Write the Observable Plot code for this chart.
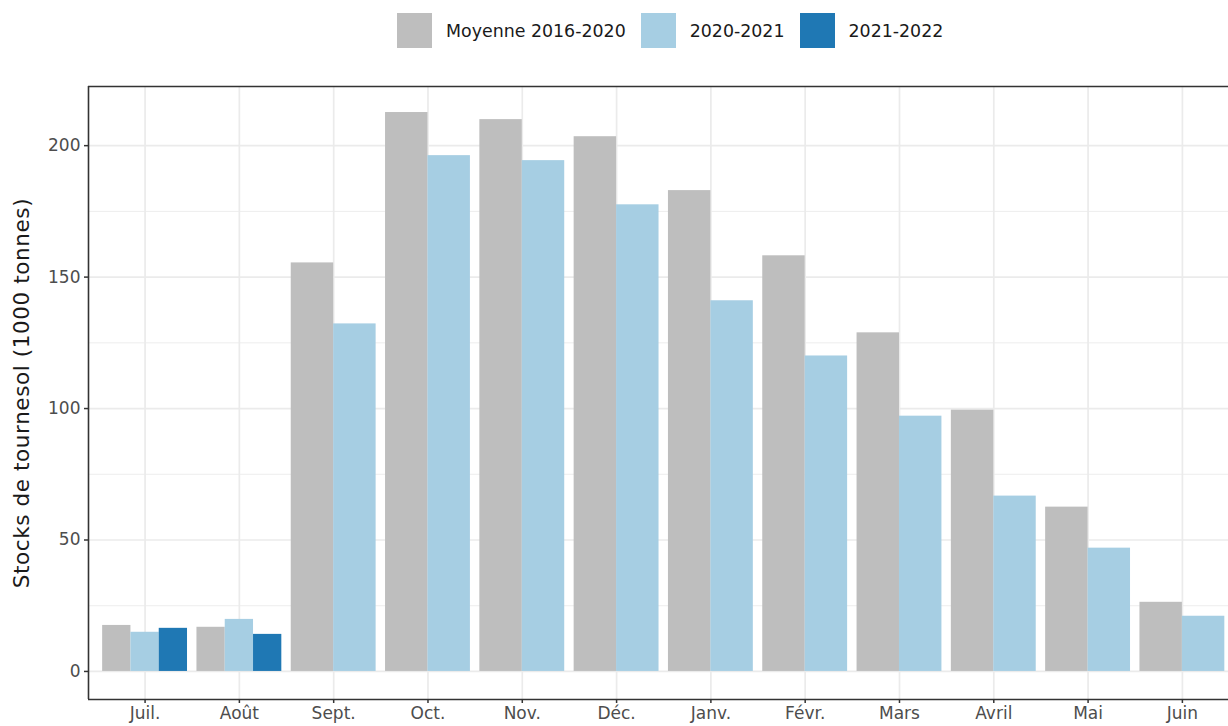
<!DOCTYPE html>
<html>
<head>
<meta charset="utf-8">
<script src="https://cdn.jsdelivr.net/npm/d3@7"></script>
<script src="https://cdn.jsdelivr.net/npm/@observablehq/plot@0.6"></script>
<style>
  html, body { margin: 0; padding: 0; background: #fff; }
  #wrap { position: relative; width: 1228px; height: 726px; overflow: hidden; font-family: "DejaVu Sans", sans-serif; }
  #legend { position: absolute; left: 397px; top: 13px; height: 35px; display: flex; align-items: center; }
  .item { display: flex; align-items: center; margin-right: 15px; }
  .sw { width: 35px; height: 35px; margin-right: 14px; }
  .lab { font-size: 17.4px; color: #1a1a1a; }
  #chart { position: absolute; left: 0; top: 60px; }
</style>
</head>
<body>
<div id="wrap">
  <div id="legend"></div>
  <div id="chart"></div>
</div>
<script>
// ---- data ----
const months = ["Juil.", "Août", "Sept.", "Oct.", "Nov.", "Déc.", "Janv.", "Févr.", "Mars", "Avril", "Mai", "Juin"];
const seriesNames = ["Moyenne 2016-2020", "2020-2021", "2021-2022"];
const seriesColors = ["#bebebe", "#a6cee3", "#1f78b4"];
const moyenne = [17.5, 16.8, 155.4, 212.6, 209.9, 203.4, 182.9, 158.1, 128.8, 99.4, 62.5, 26.3];
const s2020 = [14.9, 19.8, 132.2, 196.2, 194.3, 177.5, 141.0, 120.0, 97.1, 66.7, 46.9, 21.0];
const s2021 = [16.4, 14.1];
const yMajor = [0, 50, 100, 150, 200];
const yMinor = [25, 75, 125, 175];
const yTitle = "Stocks de tournesol (1000 tonnes)";

// ---- build dodged rows (ggplot-style position_dodge, width 0.9) ----
const allSeries = [moyenne, s2020, s2021];
const rows = [];
months.forEach((m, i) => {
  const present = allSeries.map((s, k) => ({k, v: s[i]})).filter(d => d.v != null);
  const n = present.length;
  present.forEach((d, j) => {
    const x1 = (i + 1) - 0.45 + j * 0.9 / n;
    rows.push({month: m, series: seriesNames[d.k], value: d.v, x1, x2: x1 + 0.9 / n});
  });
});
const monthPos = months.map((m, i) => i + 1);

// ---- legend ----
const legend = document.getElementById("legend");
seriesNames.forEach((name, k) => {
  const it = document.createElement("div");
  it.className = "item";
  it.innerHTML = `<div class="sw" style="background:${seriesColors[k]}"></div><span class="lab">${name}</span>`;
  legend.appendChild(it);
});

// ---- chart ----
const xDomain = [0.4, 12.489];
const yDomain = [-10.67, 222.5];
const chart = Plot.plot({
  width: 1228,
  height: 666,
  marginLeft: 88,
  marginRight: 0,
  marginTop: 26,
  marginBottom: 27,
  style: {fontFamily: "DejaVu Sans, sans-serif", fontSize: "17px", overflow: "visible", background: "#fff"},
  x: {domain: xDomain, axis: null},
  y: {domain: yDomain, axis: null},
  color: {domain: seriesNames, range: seriesColors},
  marks: [
    Plot.ruleY(yMinor, {stroke: "#ebebeb", strokeWidth: 0.9}),
    Plot.ruleY(yMajor, {stroke: "#ebebeb", strokeWidth: 1.7}),
    Plot.ruleX(monthPos, {stroke: "#ebebeb", strokeWidth: 1.7}),
    Plot.rect(rows, {x1: "x1", x2: "x2", y1: 0, y2: "value", fill: "series"}),
    Plot.ruleX([xDomain[0]], {stroke: "#333", strokeWidth: 1.6}),
    Plot.ruleY([yDomain[0]], {stroke: "#333", strokeWidth: 1.6}),
    Plot.ruleY([yDomain[1]], {stroke: "#333", strokeWidth: 1.6}),
    Plot.axisY(yMajor, {ticks: yMajor, tickSize: 4, tickPadding: 4, stroke: "#333", fill: "#4d4d4d", fontSize: 17, label: null, strokeWidth: 1.5}),
    Plot.axisX(monthPos, {ticks: monthPos, tickSize: 4, tickPadding: 3, stroke: "#333", fill: "#4d4d4d", fontSize: 17, label: null, strokeWidth: 1.5,
      tickFormat: d => months[d - 1]}),
    Plot.text([yTitle], {frameAnchor: "left", textAnchor: "middle", rotate: -90, dx: -66, fontSize: 21.5, fill: "#1a1a1a", text: d => d,
      style: {letterSpacing: "0.6px"}})
  ]
});
document.getElementById("chart").appendChild(chart);
// letter spacing for the axis title
chart.querySelectorAll("text").forEach(t => { if (t.textContent === yTitle) t.style.letterSpacing = "0.6px"; });
</script>
</body>
</html>
